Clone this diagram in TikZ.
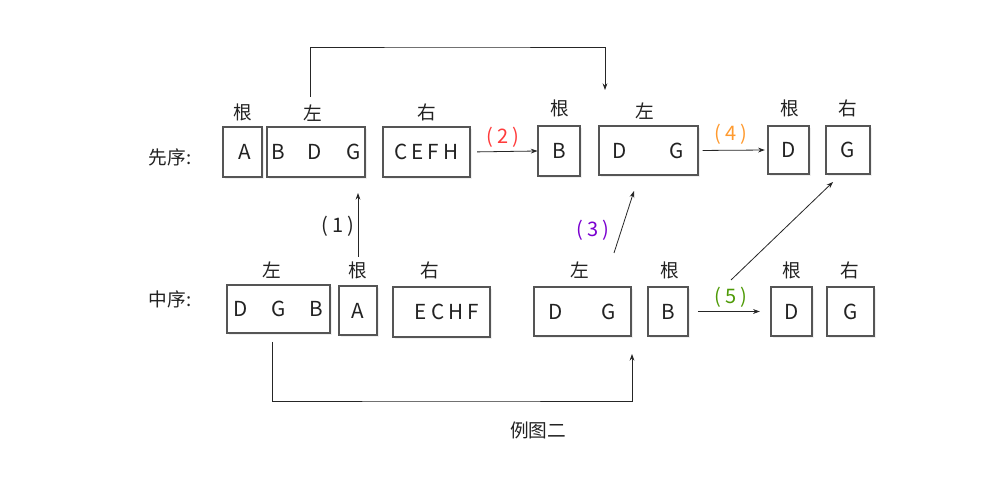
\documentclass[tikz,border=0pt]{standalone}
\usepackage{fontspec}
\setmainfont{Noto Sans CJK SC}
\usetikzlibrary{arrows.meta,shadows}
\definecolor{txt}{HTML}{222222}
\definecolor{edge}{HTML}{555555}
\definecolor{cred}{HTML}{FF3B3B}
\definecolor{cpur}{HTML}{7A00D0}
\definecolor{corg}{HTML}{FF9A2E}
\definecolor{cgrn}{HTML}{4E9A06}
\tikzset{
  box/.style={draw=edge,line width=0.8pt,fill=white,inner sep=0pt,text=txt,
    font=\fontsize{15.5pt}{17pt}\selectfont,
    drop shadow={opacity=0.12,shadow xshift=1.5pt,shadow yshift=-1.5pt}},
  lab/.style={text=txt,font=\fontsize{14pt}{16pt}\selectfont,inner sep=0pt},
  num/.style={lab,font=\fontsize{15pt}{17pt}\selectfont},
  conn/.style={draw=black!85,line width=0.6pt},
  arr/.style={conn,-{Stealth[length=5pt,width=3.6pt]}},
}
\newcommand\bx[6]{\node[box,minimum width={(#4-#2)*0.75pt},minimum height={(#5-#3)*0.75pt}] (#1) at ({(#2+#4)/2},{(#3+#5)/2}) {#6};}
\newcommand\pn[1]{(\hspace{3pt}#1\hspace{3pt})}
\begin{document}
\begin{tikzpicture}[x=0.75pt,y=-0.75pt]
\useasboundingbox[fill=white] (0,0) rectangle (993,498);
% ---------- top row (preorder)
\node[lab] (pre) at (170,157) {先序:};
\bx{ta}{223}{127}{262}{177}{\hspace{3pt}A}
\bx{tbdg}{267}{127}{365}{177}{B\hspace{17pt}D\hspace{18pt}G}
\bx{tcefh}{383}{127}{470}{177}{C\hspace{3pt}E\hspace{3pt}F\hspace{3pt}H}
\bx{tb}{538}{126}{580}{176}{B}
\bx{tdg}{599}{126}{698}{175}{D\hspace{32pt}G}
\bx{td}{768}{126}{809}{174}{D}
\bx{tg}{826}{126}{870}{174}{G}
\node[lab] (l1) at (243,112) {根};
\node[lab] (l2) at (313,113) {左};
\node[lab] (l3) at (427,112) {右};
\node[lab] (l4) at (560,108) {根};
\node[lab] (l5) at (645,111) {左};
\node[lab] (l6) at (790,108) {根};
\node[lab] (l7) at (848,108) {右};
% ---------- bottom row (inorder)
\node[lab] (ino) at (170,299) {中序:};
\bx{bdgb}{227}{285}{330}{333}{D\hspace{18pt}G\hspace{18pt}B}
\bx{ba}{339}{286}{377}{335}{A}
\bx{bechf}{393}{287}{490}{337}{\hspace{8pt}E\hspace{3pt}C\hspace{3pt}H\hspace{3pt}F}
\bx{bdg}{534}{287}{631}{336}{D\hspace{29pt}G}
\bx{bb}{648}{287}{688}{336}{B}
\bx{bd}{771}{287}{812}{336}{D}
\bx{bg}{827}{287}{874}{336}{G}
\node[lab] (m1) at (272,270) {左};
\node[lab] (m2) at (358,270) {根};
\node[lab] (m3) at (430,270) {右};
\node[lab] (m4) at (580,270) {左};
\node[lab] (m5) at (670,270) {根};
\node[lab] (m6) at (792,270) {根};
\node[lab] (m7) at (850,270) {右};
% ---------- connectors
\coordinate (c1s) at (358,257); \coordinate (c1e) at (358,193);
\draw[arr] (c1s) -- (c1e);
\node[num] (n1) at (338,226) {\pn{1}};
\draw[arr,shorten <=5pt] (tcefh.east) -- (tb.west);
\node[num,text=cred] (n2) at (503,137) {\pn{2}};
\coordinate (c3s) at (614,253); \coordinate (c3e) at (634,191);
\draw[arr] (c3s) -- (c3e);
\node[num,text=cpur] (n3) at (593,230) {\pn{3}};
\draw[arr,shorten <=3pt,shorten >=2pt] (tdg.east) -- (td.west);
\node[num,text=corg] (n4) at (731,134) {\pn{4}};
\draw[arr,shorten <=7pt,shorten >=8pt] (bb.east) -- (bd.west);
\node[num,text=cgrn] (n5) at (731,297) {\pn{5}};
\coordinate (c6s) at (731,280); \coordinate (c6e) at (833,182);
\draw[arr] (c6s) -- (c6e);
% top loop
\coordinate (t1) at (310,97); \coordinate (t2) at (605,90);
\draw[arr] (t1) |- (457,47) -| (t2);
% bottom loop
\coordinate (b1) at (272,342); \coordinate (b2) at (632,354);
\draw[arr] (b1) |- (450,401) -| (b2);
\node[lab] (cap) at (538,430) {例图二};
\end{tikzpicture}
\end{document}
